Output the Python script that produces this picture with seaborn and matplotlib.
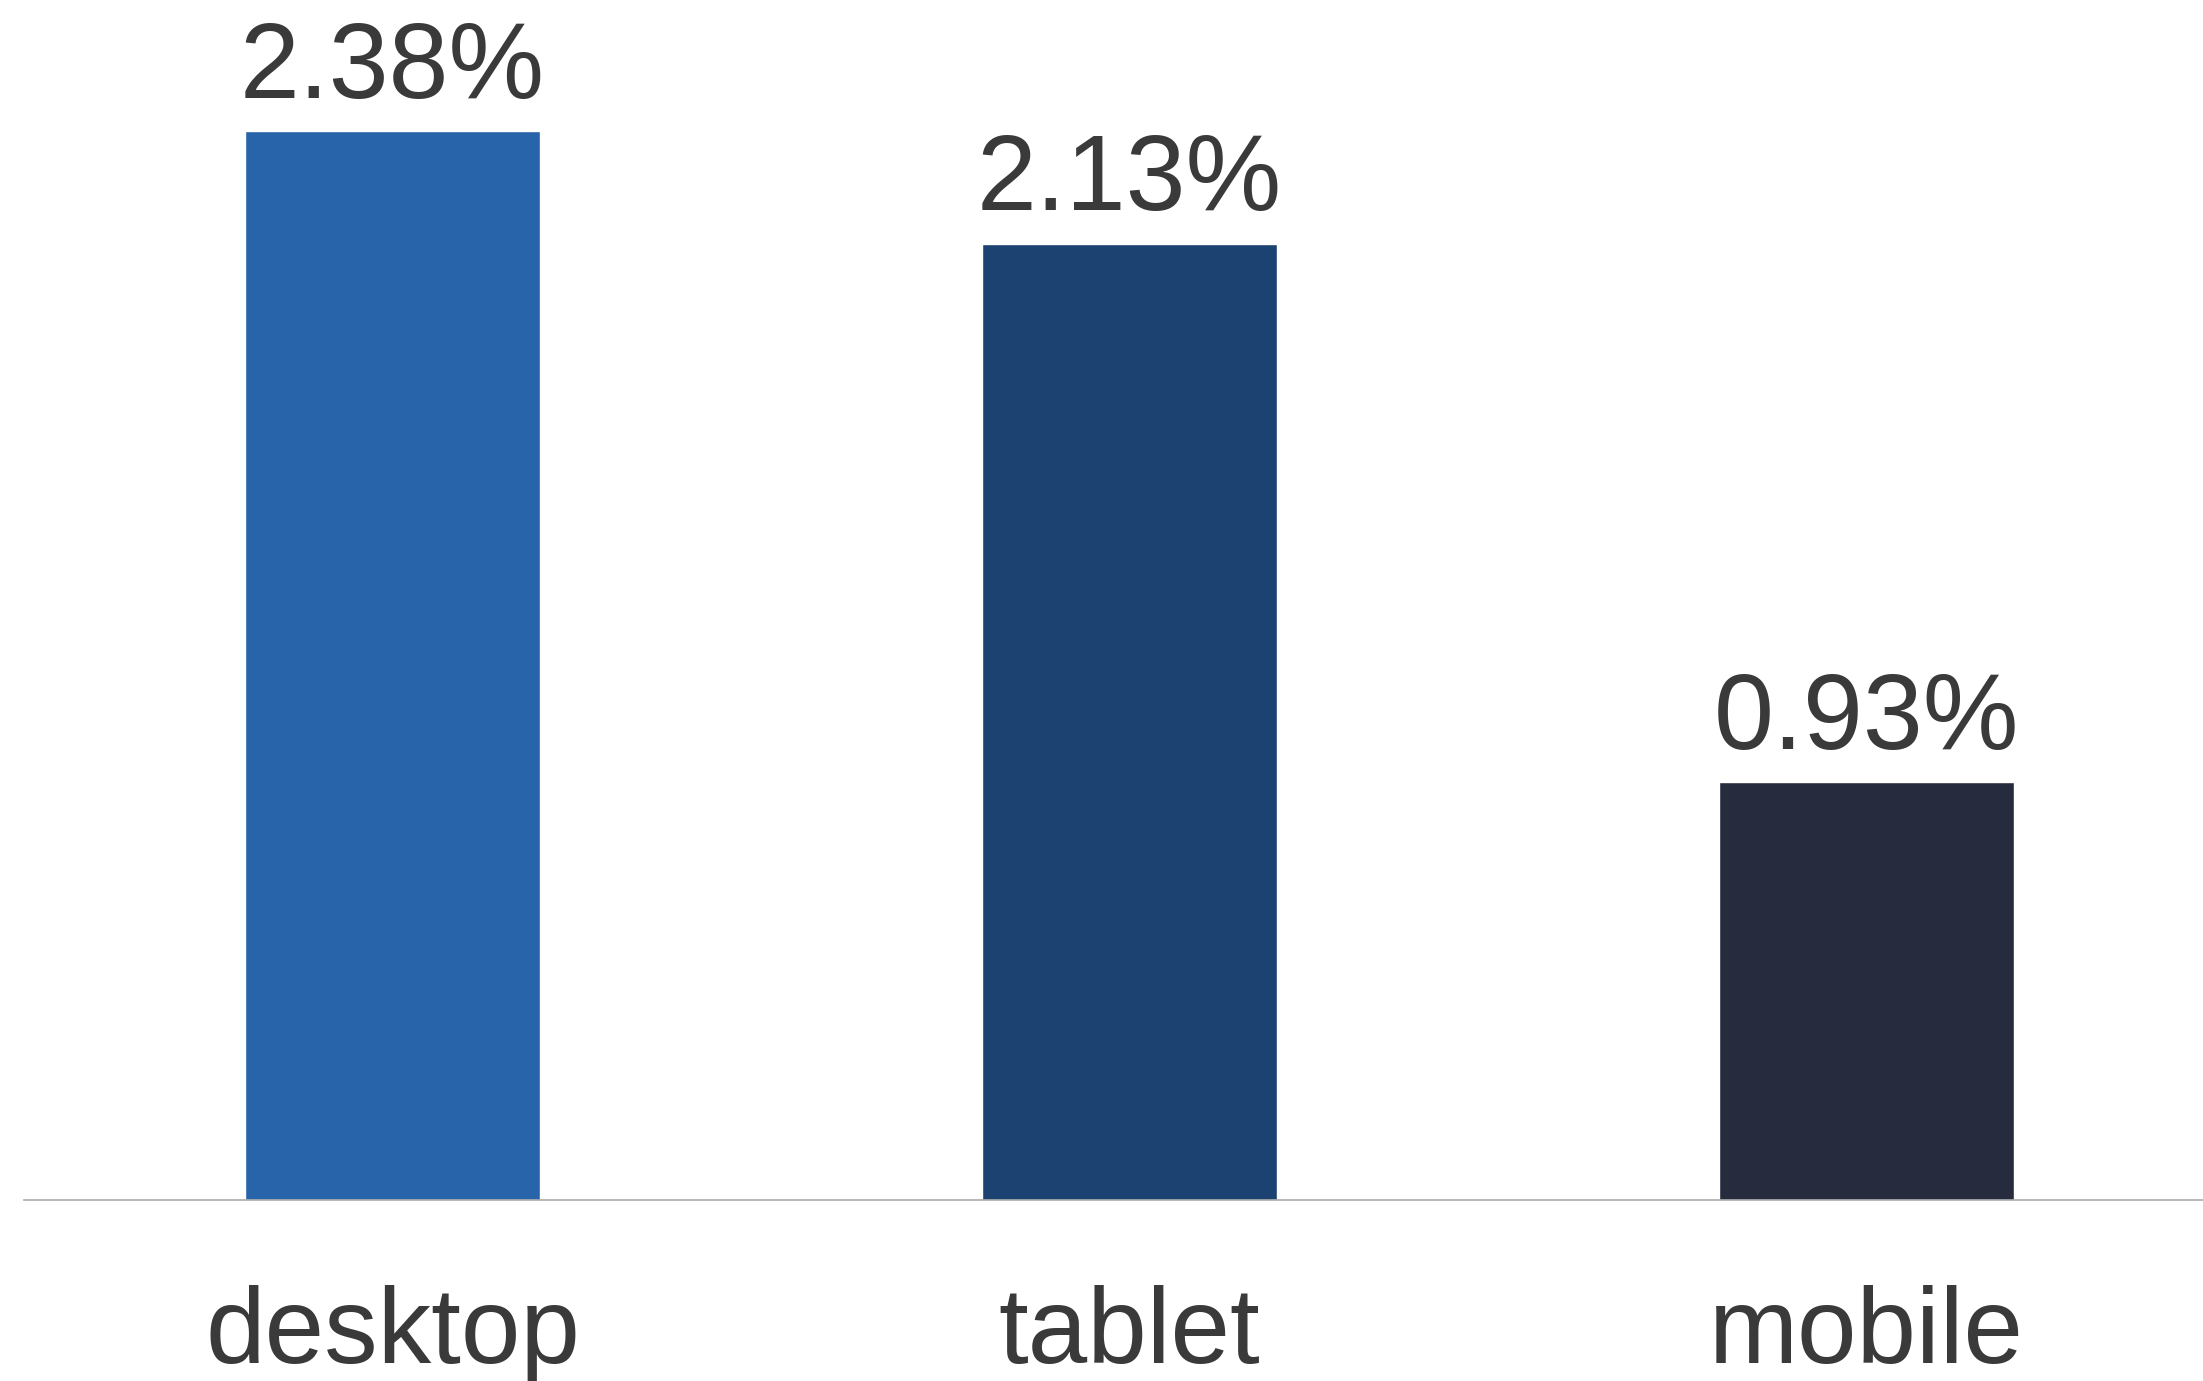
import matplotlib
matplotlib.use("Agg")
import matplotlib.pyplot as plt
import seaborn as sns
import pandas as pd

# Conversion rate by device type
devices = ["desktop", "tablet", "mobile"]
rates = [2.38, 2.13, 0.93]
bar_colors = ["#2864AA", "#1C4272", "#262B3E"]

df = pd.DataFrame({"device": devices, "rate": rates})

sns.set_theme(style="white")
plt.rcParams["font.family"] = ["Liberation Sans", "DejaVu Sans"]

W, H, DPI = 2203, 1381, 100
fig = plt.figure(figsize=(W / DPI, H / DPI), dpi=DPI)

# axes spans from the left margin to the right edge, baseline near the bottom
left_px, base_px = 24, 1200
ax = fig.add_axes([left_px / W, (H - base_px) / H, 1 - left_px / W, base_px / H])

sns.barplot(data=df, x="device", y="rate", hue="device", palette=bar_colors,
            width=0.4, legend=False, ax=ax, saturation=1)

px_per_unit = 449.0
step = 737.0
ax.set_xlim(-0.5, -0.5 + (W - left_px) / step)
ax.set_ylim(0, base_px / px_per_unit)

text_color = "#3a3a3a"
for i, v in enumerate(rates):
    ax.annotate(f"{v:.2f}%", xy=(i, v), xytext=(0, 24), textcoords="offset points",
                ha="center", va="baseline", fontsize=77.5, color=text_color)

for s in ["top", "left", "right"]:
    ax.spines[s].set_visible(False)
ax.spines["bottom"].set_color("#aaaaaa")
ax.spines["bottom"].set_linewidth(1.2)

ax.set_xlabel("")
ax.set_ylabel("")
ax.set_yticks([])
ax.tick_params(axis="x", length=0, pad=61, labelsize=77, labelcolor=text_color)

fig.savefig("out.png", dpi=DPI)
